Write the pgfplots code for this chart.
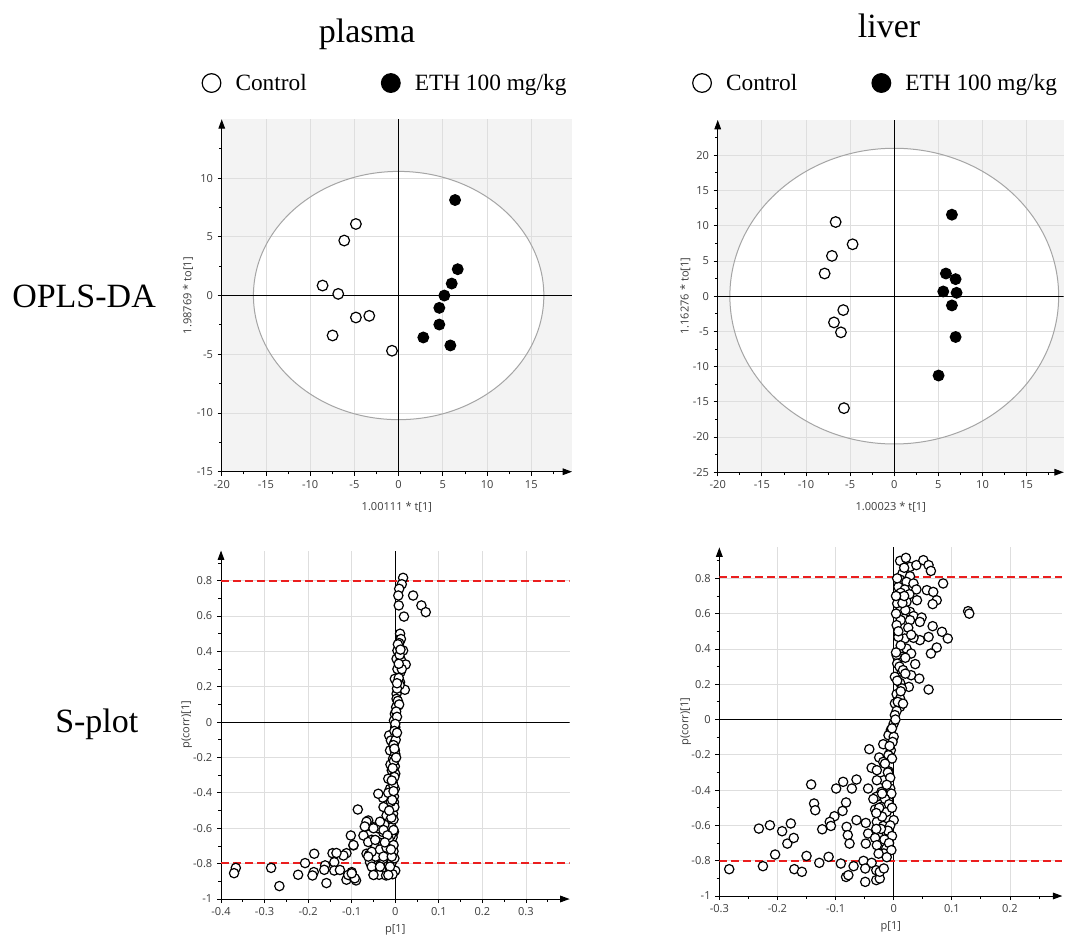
\documentclass[border=0pt]{standalone}
\usepackage{fontspec}
\setmainfont{Liberation Serif}
\newfontfamily\tickfont{Open Sans}
\usepackage{pgfplots}
\pgfplotsset{compat=1.18}
\usetikzlibrary{arrows.meta}
\definecolor{bggray}{RGB}{243,243,243}
\definecolor{gridgray}{RGB}{222,222,222}
\definecolor{ellgray}{RGB}{165,165,165}
\definecolor{labgray}{RGB}{60,60,60}
\definecolor{limred}{RGB}{235,30,30}
\pgfplotsset{
  myaxis/.style={
    set layers,
    scale only axis,
    axis lines=left,
    axis line style={line width=0.75pt, -{Triangle[length=7pt,width=5pt]}},
    tick align=outside,
    major tick length=3pt,
    minor tick length=2pt,
    tick style={black, line width=0.6pt},
    grid=major,
    major grid style={gridgray, line width=0.6pt},
    ticklabel style={font=\tickfont\fontsize{8.3}{9}\selectfont, text=labgray},
    label style={font=\tickfont\fontsize{8.3}{9}\selectfont, text=labgray},
    /pgf/number format/assume math mode=true,
    legend style={draw=none, fill=none, anchor=center, font=\rmfamily\fontsize{17.5}{20}\selectfont,
      /tikz/every odd column/.append style={column sep=9pt},
      /tikz/every even column/.append style={column sep=54pt}},
    legend columns=2,
    legend image post style={mark size=7pt},
  },
  openpt/.style={only marks, mark=*, mark size=#1, mark options={fill=white, draw=black, line width=0.9pt}},
  fillpt/.style={only marks, mark=*, mark size=#1, mark options={fill=black, draw=black, line width=0.9pt}},
}
\begin{document}
\begin{tikzpicture}
% titles and row labels
\node[anchor=base, font=\fontsize{25.5}{30}\selectfont] at (275.25pt,671.25pt) {plasma};
\node[anchor=base, font=\fontsize{25.5}{30}\selectfont] at (666.75pt,675pt) {liver};
\node[anchor=base west, inner sep=0pt, font=\fontsize{25.5}{30}\selectfont] at (9pt,472.5pt) {OPLS-DA};
\node[anchor=base west, inner sep=0pt, font=\fontsize{25.5}{30}\selectfont] at (41.25pt,153.75pt) {S-plot};

% ---------- plasma OPLS-DA ----------
\begin{axis}[myaxis,
  at={(166.3pt,349.7pt)}, anchor=south west, width=262.7pt, height=264.3pt,
  xmin=-20, xmax=19.6, ymin=-15, ymax=15,
  xtick={-20,-15,...,15}, ytick={-15,-10,...,10},
  minor xtick={-17.5,-12.5,...,17.5}, minor ytick={-12.5,-7.5,...,12.5},
  xlabel={1.00111 * t[1]}, ylabel={1.98769 * to[1]},
  xlabel style={at={(axis description cs:0.5,-0.1)}, anchor=center},
  ylabel style={at={(axis description cs:-0.096,0.5)}, anchor=center, rotate=0},
  legend style={at={(axis description cs:0.468,1.103)}},
]
\begin{pgfonlayer}{axis background}
\fill[bggray] (rel axis cs:0,0) rectangle (rel axis cs:1,1);
\fill[white] (axis cs:0,0) ellipse [x radius=108.9pt, y radius=93.1pt];
\end{pgfonlayer}
\draw[ellgray, line width=0.75pt] (axis cs:0,0) ellipse [x radius=108.9pt, y radius=93.1pt];
\addplot[black, line width=0.75pt, forget plot] coordinates {(0,-15) (0,15)};
\addplot[black, line width=0.75pt, forget plot] coordinates {(-20,0) (19.6,0)};
\addplot[openpt=4pt] coordinates {(-4.83,6.09)(-6.15,4.68)(-8.6,0.85)(-6.83,0.14)(-4.83,-1.87)(-3.32,-1.73)(-7.47,-3.4)(-0.75,-4.7)};
\addlegendentry{Control}
\addplot[fillpt=4pt] coordinates {(6.38,8.13)(6.68,2.24)(6.0,1.02)(5.17,0)(4.6,-1.05)(4.6,-2.47)(2.79,-3.57)(5.85,-4.25)};
\addlegendentry{ETH 100 mg/kg}
\end{axis}

% ---------- liver OPLS-DA ----------
\begin{axis}[myaxis,
  at={(538.3pt,349.3pt)}, anchor=south west, width=259.5pt, height=264.2pt,
  xmin=-20, xmax=19.2, ymin=-25, ymax=25,
  xtick={-20,-15,...,15}, ytick={-25,-20,...,20},
  minor xtick={-17.5,-12.5,...,17.5}, minor ytick={-22.5,-17.5,...,22.5},
  xlabel={1.00023 * t[1]}, ylabel={1.16276 * to[1]},
  xlabel style={at={(axis description cs:0.5,-0.098)}, anchor=center},
  ylabel style={at={(axis description cs:-0.094,0.5)}, anchor=center, rotate=0},
  legend style={at={(axis description cs:0.458,1.105)}},
]
\begin{pgfonlayer}{axis background}
\fill[bggray] (rel axis cs:0,0) rectangle (rel axis cs:1,1);
\fill[white] (axis cs:0,0) ellipse [x radius=123.3pt, y radius=110.9pt];
\end{pgfonlayer}
\draw[ellgray, line width=0.75pt] (axis cs:0,0) ellipse [x radius=123.3pt, y radius=110.9pt];
\addplot[black, line width=0.75pt, forget plot] coordinates {(0,-25) (0,25)};
\addplot[black, line width=0.75pt, forget plot] coordinates {(-20,0) (19.2,0)};
\addplot[openpt=4pt] coordinates {(-6.64,10.52)(-4.72,7.36)(-7.06,5.71)(-7.89,3.21)(-5.78,-1.98)(-6.83,-3.73)(-6.04,-5.14)(-5.7,-15.9)};
\addlegendentry{Control}
\addplot[fillpt=4pt] coordinates {(6.53,11.56)(5.85,3.21)(6.95,2.41)(5.55,0.66)(7.06,0.47)(6.53,-1.32)(6.95,-5.8)(5.02,-11.27)};
\addlegendentry{ETH 100 mg/kg}
\end{axis}

% ---------- plasma S-plot ----------
\begin{axis}[myaxis,
  at={(165.75pt,29.25pt)}, anchor=south west, width=261.4pt, height=261.3pt,
  xmin=-0.4, xmax=0.4, ymin=-1, ymax=0.97,
  xtick={-0.4,-0.3,...,0.31}, ytick={-1,-0.8,...,0.81},
  minor xtick={-0.35,-0.25,...,0.36}, minor ytick={-0.9,-0.7,...,0.91},
  xlabel={p[1]}, ylabel={p(corr)[1]},
  xlabel style={at={(axis description cs:0.5,-0.089)}, anchor=center},
  ylabel style={at={(axis description cs:-0.098,0.5)}, anchor=center, rotate=0},
]
\addplot[black, line width=0.75pt] coordinates {(0,-1) (0,0.97)};
\addplot[black, line width=0.75pt] coordinates {(-0.4,0) (0.4,0)};
\addplot[openpt=3.5pt] coordinates {
(0.018,0.816)(0.015,0.78)(0.009,0.754)(0.007,0.716)(0.008,0.66)(0.041,0.716)(0.06,0.66)(0.07,0.622)(0.02,0.597)
(0.011,0.5)(0.013,0.47)(0.009,0.447)(0.005,0.405)(0.018,0.405)(0.003,0.358)(0.013,0.352)(0.024,0.326)(0.012,0.283)
(-0.001,0.245)(0.011,0.226)(0.007,0.198)(0.022,0.183)(0.003,0.16)(0.003,0.132)(0.007,0.094)(0.002,0.085)(-0.001,0.047)
(-0.003,0.009)(0,-0.028)(-0.002,-0.075)(-0.014,-0.075)(-0.01,-0.104)(-0.003,-0.122)(-0.012,-0.16)(-0.001,-0.16)
(-0.005,-0.207)(-0.011,-0.24)(-0.001,-0.25)(-0.008,-0.273)(0,-0.292)(-0.016,-0.32)(-0.006,-0.34)(-0.012,-0.377)
(-0.001,-0.377)(-0.006,-0.405)(-0.016,-0.424)(-0.028,-0.428)(-0.039,-0.405)(-0.003,-0.452)(-0.021,-0.471)(-0.008,-0.49)
(-0.086,-0.494)(-0.02,-0.528)(-0.005,-0.518)(-0.062,-0.556)(-0.012,-0.556)(-0.035,-0.571)(-0.067,-0.59)(-0.05,-0.594)
(-0.018,-0.594)(-0.008,-0.594)(-0.028,-0.622)(-0.073,-0.641)(-0.102,-0.641)(-0.054,-0.665)(-0.039,-0.678)(-0.012,-0.678)
(-0.021,-0.703)(-0.047,-0.694)(-0.005,-0.703)(-0.096,-0.697)(-0.066,-0.744)(-0.052,-0.744)(-0.031,-0.735)(-0.016,-0.754)
(-0.112,-0.741)(-0.144,-0.741)(-0.186,-0.744)(-0.14,-0.792)(-0.119,-0.754)(-0.207,-0.797)(-0.161,-0.81)(-0.187,-0.848)
(-0.14,-0.839)(-0.163,-0.835)(-0.10,-0.848)(-0.112,-0.891)(-0.09,-0.895)(-0.098,-0.873)(-0.158,-0.91)(-0.223,-0.863)
(-0.19,-0.867)(-0.285,-0.824)(-0.266,-0.927)(-0.366,-0.824)(-0.37,-0.854)(-0.058,-0.792)(-0.049,-0.863)(-0.037,-0.863)
(-0.021,-0.867)(-0.012,-0.829)(-0.035,-0.81)(-0.008,-0.792)(-0.028,-0.773)(-0.06,-0.75)(-0.062,-0.678)
(0.005,0.3)(0.008,0.25)(0.01,0.21)(0.004,0.19)(0.006,0.12)(0.009,0.1)(0.002,0.06)(0.004,0.03)(0.0,-0.01)(-0.002,-0.05)
(0.001,-0.1)(-0.004,-0.13)(0.0,-0.18)(-0.003,-0.22)(-0.006,-0.26)(-0.002,-0.31)(-0.004,-0.36)(-0.003,-0.42)(-0.002,-0.48)
(-0.004,-0.55)(-0.003,-0.62)(-0.006,-0.65)(-0.004,-0.73)(-0.002,-0.77)(0.0,-0.84)(-0.006,-0.86)(-0.01,-0.64)(-0.015,-0.66)
(-0.025,-0.58)(-0.03,-0.7)(-0.045,-0.76)(-0.04,-0.6)(-0.01,-0.45)(-0.002,-0.15)(0.006,0.44)(0.01,0.38)(0.015,0.3)
(-0.016,-0.40)(-0.027,-0.48)(-0.035,-0.563)(-0.066,-0.563)(-0.07,-0.59)(-0.05,-0.60)(-0.027,-0.61)(-0.004,-0.61)
(-0.046,-0.666)(-0.004,-0.695)(-0.096,-0.695)(-0.135,-0.74)(-0.054,-0.733)(-0.035,-0.72)(-0.02,-0.71)(-0.062,-0.76)
(-0.027,-0.76)(-0.008,-0.76)(-0.054,-0.817)(-0.035,-0.817)(-0.012,-0.817)(-0.127,-0.836)(-0.05,-0.864)(-0.016,-0.864)
(-0.108,-0.864)(-0.093,-0.883)(-0.1,-0.855)(-0.009,-0.54)(-0.014,-0.5)(-0.018,-0.64)(-0.024,-0.68)(-0.01,-0.72)
(-0.008,-0.33)(-0.004,-0.39)(-0.007,-0.44)(0.002,-0.2)(0.004,0.22)(0.008,0.33)(0.012,0.41)(0.004,-0.06)
};
\addplot[limred, line width=1.5pt, dash pattern=on 6pt off 3pt] coordinates {(-0.4,0.8) (0.4,0.8)};
\addplot[limred, line width=1.5pt, dash pattern=on 6pt off 3pt] coordinates {(-0.4,-0.795) (0.4,-0.795)};
\end{axis}

% ---------- liver S-plot ----------
\begin{axis}[myaxis,
  at={(539.5pt,31.5pt)}, anchor=south west, width=257.2pt, height=261.4pt,
  xmin=-0.3, xmax=0.29, ymin=-1, ymax=0.975,
  xtick={-0.3,-0.2,...,0.21}, ytick={-1,-0.8,...,0.81},
  minor xtick={-0.25,-0.15,...,0.26}, minor ytick={-0.9,-0.7,...,0.91},
  xlabel={p[1]}, ylabel={p(corr)[1]},
  xlabel style={at={(axis description cs:0.5,-0.089)}, anchor=center},
  ylabel style={at={(axis description cs:-0.098,0.5)}, anchor=center, rotate=0},
]
\addplot[black, line width=0.75pt] coordinates {(0,-1) (0,0.975)};
\addplot[black, line width=0.75pt] coordinates {(-0.3,0) (0.29,0)};
\addplot[openpt=3.5pt] coordinates {
(0.011,0.899)(0.021,0.916)(0.028,0.865)(0.039,0.875)(0.051,0.903)(0.06,0.875)(0.064,0.842)(0.015,0.827)(0.028,0.812)
(0.011,0.793)(0.022,0.78)(0.034,0.771)(0.085,0.771)(0.008,0.752)(0.019,0.737)(0.039,0.737)(0.057,0.733)(0.068,0.723)
(0.027,0.71)(0.012,0.718)(0.040,0.676)(0.074,0.676)(0.067,0.654)(0.022,0.667)(0.006,0.657)(0.011,0.614)(0.028,0.61)
(0.128,0.614)(0.130,0.60)(0.034,0.586)(0.048,0.578)(0.012,0.563)(0.028,0.563)(0.005,0.535)(0.045,0.553)(0.067,0.529)
(0.083,0.497)(0.093,0.459)(0.06,0.468)(0.045,0.45)(0.034,0.463)(0.019,0.459)(0.008,0.468)(0.074,0.408)(0.064,0.374)
(0.022,0.402)(0.014,0.355)(0.03,0.374)(0.005,0.365)(0.006,0.317)(0.037,0.314)(0.014,0.27)(0.030,0.251)(0.044,0.232)
(0.002,0.242)(0.011,0.208)(0.026,0.185)(0.06,0.17)(0.014,0.176)(0.005,0.144)(0.011,0.119)(0.002,0.091)(0.011,0.072)
(0.005,0.049)(0.002,0.025)
(0.008,0.5)(0.012,0.42)(0.004,0.38)(0.01,0.3)(0.016,0.28)(0.006,0.22)(0.02,0.26)(0.012,0.16)(0.007,0.1)(0.016,0.09)
(0.02,0.62)(0.015,0.66)(0.018,0.7)(0.025,0.52)(0.03,0.48)(0.02,0.35)(0.004,0.6)(0.006,0.8)(0.004,0.7)(0.018,0.86)
(0,-0.023)(-0.005,-0.06)(-0.009,-0.089)(0,-0.098)(-0.002,-0.127)(-0.018,-0.14)(-0.005,-0.174)(-0.042,-0.168)
(-0.009,-0.202)(-0.025,-0.215)(-0.003,-0.221)(-0.018,-0.24)(-0.038,-0.274)(-0.029,-0.287)(-0.009,-0.293)(-0.017,-0.344)
(-0.064,-0.34)(-0.029,-0.344)(-0.087,-0.353)(-0.072,-0.391)(-0.099,-0.391)(-0.142,-0.368)(-0.044,-0.391)(-0.006,-0.391)
(-0.021,-0.41)(-0.030,-0.438)(-0.009,-0.457)(-0.082,-0.47)(-0.137,-0.476)(-0.135,-0.514)(-0.088,-0.518)(-0.032,-0.51)
(-0.021,-0.495)(-0.012,-0.523)(-0.102,-0.548)(0,-0.57)(-0.064,-0.57)(-0.048,-0.586)(-0.029,-0.58)(-0.11,-0.58)
(-0.108,-0.603)(-0.018,-0.603)(-0.177,-0.589)(-0.213,-0.599)(-0.232,-0.618)(-0.192,-0.633)(-0.183,-0.703)(-0.172,-0.671)
(-0.123,-0.622)(-0.081,-0.608)(-0.079,-0.655)(-0.076,-0.703)(-0.044,-0.646)(-0.032,-0.671)(-0.012,-0.646)(-0.048,-0.703)
(-0.029,-0.712)(-0.013,-0.731)(-0.017,-0.759)(-0.204,-0.765)(-0.15,-0.773)(-0.112,-0.778)(-0.052,-0.801)(-0.038,-0.812)
(-0.128,-0.812)(-0.225,-0.831)(-0.283,-0.848)(-0.171,-0.848)(-0.158,-0.863)(-0.091,-0.816)(-0.069,-0.831)(-0.049,-0.844)
(-0.030,-0.854)(-0.082,-0.892)(-0.078,-0.882)(-0.049,-0.92)(-0.030,-0.91)(-0.024,-0.901)(-0.024,-0.863)(-0.017,-0.844)
(-0.01,-0.3)(-0.006,-0.33)(-0.012,-0.37)(-0.004,-0.42)(-0.015,-0.45)(-0.008,-0.48)(-0.003,-0.5)(-0.02,-0.55)(-0.006,-0.6)
(-0.01,-0.63)(-0.003,-0.66)(-0.016,-0.68)(-0.008,-0.7)(-0.004,-0.74)(-0.022,-0.62)(-0.025,-0.5)(-0.02,-0.42)(-0.015,-0.25)
(-0.007,-0.15)(-0.003,-0.05)(0.003,0.0)(-0.03,-0.62)(-0.026,-0.76)(-0.012,-0.78)(-0.035,-0.45)(-0.03,-0.53)
};
\addplot[limred, line width=1.5pt, dash pattern=on 6pt off 3pt] coordinates {(-0.3,0.805) (0.29,0.805)};
\addplot[limred, line width=1.5pt, dash pattern=on 6pt off 3pt] coordinates {(-0.3,-0.8) (0.29,-0.8)};
\end{axis}
\path (0,0) rectangle (798.75pt,703.5pt);
\end{tikzpicture}
\end{document}
